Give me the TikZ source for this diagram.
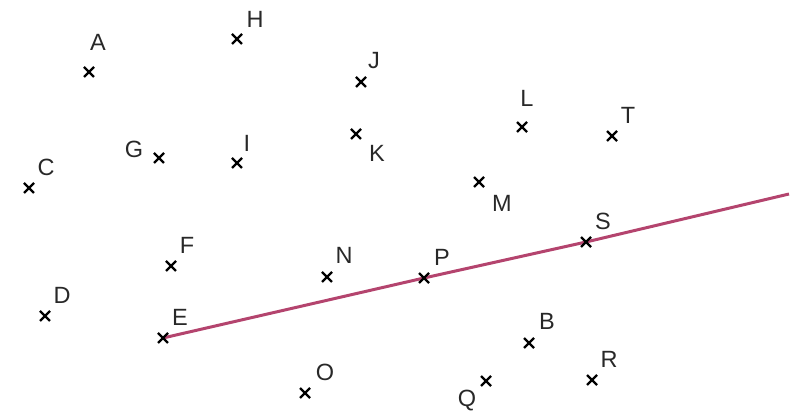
\documentclass[tikz,border=0pt]{standalone}
\usepackage{fontspec}
\setmainfont{Liberation Sans}
\usetikzlibrary{shapes.misc,backgrounds}
\definecolor{segcol}{RGB}{180,68,110}
\definecolor{labcol}{RGB}{40,40,40}
\tikzset{
  pt/.style={cross out,draw=black,line width=2.4pt,minimum size=10pt,inner sep=0pt,outer sep=0pt},
  lab/.style={text=labcol,font=\fontsize{23.5}{23.5}\selectfont,inner sep=0pt,text height=16.8pt,text depth=0pt,anchor=center},
  seg/.style={draw=segcol,line width=3pt}
}
\begin{document}
\begin{tikzpicture}[x=1pt,y=-1pt]
\useasboundingbox (0,0) rectangle (796,411);
% points
\node[pt] (A) at (89,72) {};
\node[pt] (H) at (237,39) {};
\node[pt] (G) at (159,158) {};
\node[pt] (I) at (237,163) {};
\node[pt] (C) at (29,188) {};
\node[pt] (J) at (361,82) {};
\node[pt] (K) at (356,134) {};
\node[pt] (L) at (522,127) {};
\node[pt] (M) at (479,182) {};
\node[pt] (T) at (612,136) {};
\node[pt] (S) at (586,242) {};
\node[pt] (F) at (171,266) {};
\node[pt] (D) at (45,316) {};
\node[pt] (E) at (163,338) {};
\node[pt] (N) at (327,277) {};
\node[pt] (P) at (424,278) {};
\node[pt] (B) at (529,343) {};
\node[pt] (O) at (305,393) {};
\node[pt] (Q) at (486,381) {};
\node[pt] (R) at (592,380) {};
% labels
\node[lab] (lA) at (98,42) {A};
\node[lab] (lH) at (255,19) {H};
\node[lab] (lG) at (134,149) {G};
\node[lab] (lI) at (247,143) {I};
\node[lab] (lC) at (46,167) {C};
\node[lab] (lJ) at (374,60) {J};
\node[lab] (lK) at (377,153) {K};
\node[lab] (lL) at (527,98) {L};
\node[lab] (lM) at (502,203) {M};
\node[lab] (lT) at (628,115) {T};
\node[lab] (lS) at (603,221) {S};
\node[lab] (lF) at (187,245) {F};
\node[lab] (lD) at (62,295) {D};
\node[lab] (lE) at (180,317) {E};
\node[lab] (lN) at (344,255) {N};
\node[lab] (lP) at (442,257) {P};
\node[lab] (lB) at (547,321) {B};
\node[lab] (lO) at (325,372) {O};
\node[lab] (lQ) at (467,398) {Q};
\node[lab] (lR) at (609,359) {R};
% line
\coordinate (end) at (789,194);
\begin{scope}[on background layer]
\draw[seg] (E.center) -- (P.center) -- (S.center) -- (end);
\end{scope}
\end{tikzpicture}
\end{document}
